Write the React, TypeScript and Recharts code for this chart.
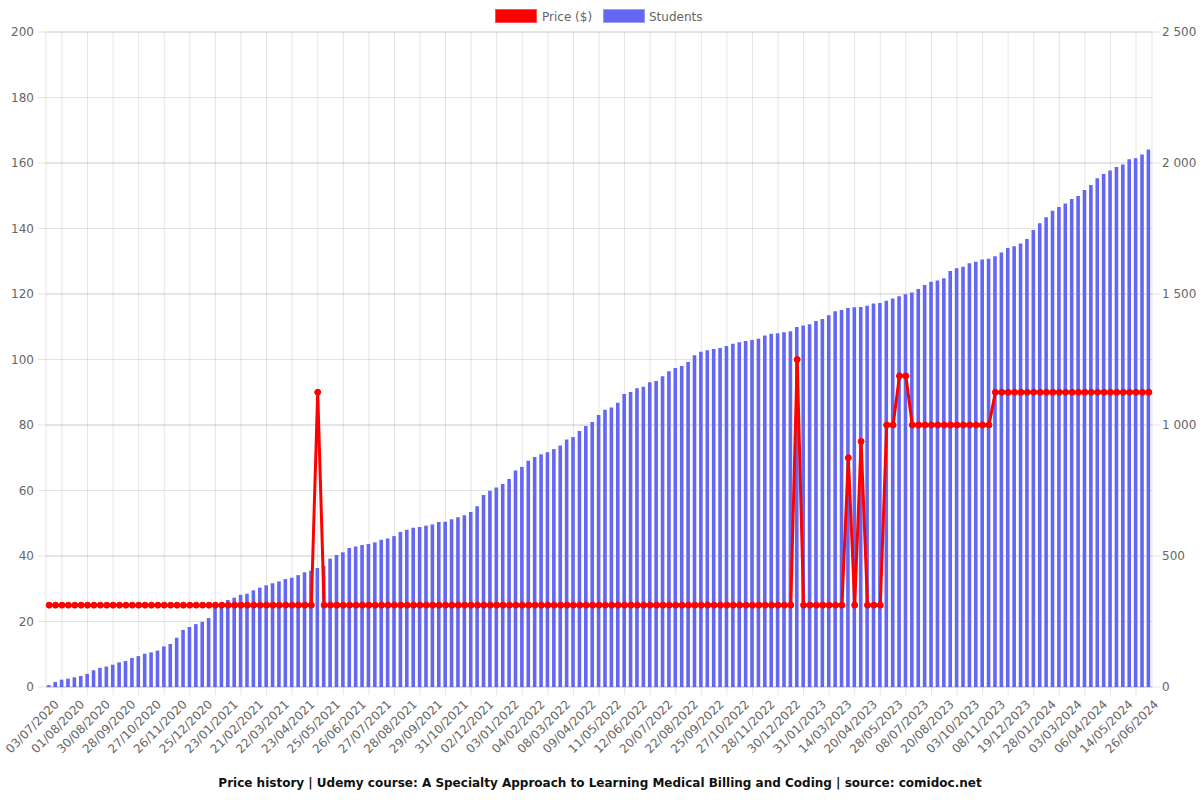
import React from "react";
import { ComposedChart, Bar, Line, XAxis, YAxis, CartesianGrid } from "recharts";

// every 4th category carries a date label
const tickLabels = [
  "03/07/2020", "01/08/2020", "30/08/2020", "28/09/2020", "27/10/2020", "26/11/2020",
  "25/12/2020", "23/01/2021", "21/02/2021", "22/03/2021", "23/04/2021", "25/05/2021",
  "26/06/2021", "27/07/2021", "28/08/2021", "29/09/2021", "31/10/2021", "02/12/2021",
  "03/01/2022", "04/02/2022", "08/03/2022", "09/04/2022", "11/05/2022", "12/06/2022",
  "20/07/2022", "22/08/2022", "25/09/2022", "27/10/2022", "28/11/2022", "30/12/2022",
  "31/01/2023", "14/03/2023", "20/04/2023", "28/05/2023", "08/07/2023", "20/08/2023",
  "03/10/2023", "08/11/2023", "19/12/2023", "28/01/2024", "03/03/2024", "06/04/2024",
  "14/05/2024", "26/06/2024",
];

const students = [
  7, 19, 28, 32, 37, 42, 50, 64, 73, 78,
  85, 94, 99, 111, 118, 127, 132, 139, 155, 164,
  188, 218, 229, 240, 249, 263, 303, 310, 332, 341,
  352, 356, 369, 379, 388, 396, 403, 412, 417, 427,
  438, 444, 454, 462, 490, 504, 514, 531, 536, 542,
  546, 552, 562, 567, 576, 592, 600, 608, 611, 616,
  620, 630, 631, 640, 648, 656, 668, 690, 733, 749,
  761, 775, 794, 826, 840, 864, 878, 888, 896, 908,
  922, 945, 954, 977, 996, 1011, 1038, 1058, 1067, 1085,
  1118, 1126, 1140, 1146, 1163, 1168, 1186, 1205, 1218, 1225,
  1240, 1266, 1280, 1285, 1290, 1294, 1302, 1310, 1316, 1321,
  1324, 1329, 1342, 1348, 1350, 1354, 1358, 1374, 1380, 1385,
  1397, 1405, 1419, 1434, 1439, 1447, 1449, 1450, 1455, 1464,
  1466, 1474, 1483, 1491, 1499, 1506, 1519, 1534, 1547, 1552,
  1560, 1588, 1598, 1604, 1617, 1623, 1632, 1635, 1644, 1658,
  1676, 1682, 1693, 1710, 1744, 1770, 1793, 1818, 1832, 1845,
  1863, 1874, 1897, 1916, 1942, 1958, 1971, 1985, 1994, 2014,
  2018, 2032, 2052,
];

const prices = [
  25, 25, 25, 25, 25, 25, 25, 25, 25, 25,
  25, 25, 25, 25, 25, 25, 25, 25, 25, 25,
  25, 25, 25, 25, 25, 25, 25, 25, 25, 25,
  25, 25, 25, 25, 25, 25, 25, 25, 25, 25,
  25, 25, 90, 25, 25, 25, 25, 25, 25, 25,
  25, 25, 25, 25, 25, 25, 25, 25, 25, 25,
  25, 25, 25, 25, 25, 25, 25, 25, 25, 25,
  25, 25, 25, 25, 25, 25, 25, 25, 25, 25,
  25, 25, 25, 25, 25, 25, 25, 25, 25, 25,
  25, 25, 25, 25, 25, 25, 25, 25, 25, 25,
  25, 25, 25, 25, 25, 25, 25, 25, 25, 25,
  25, 25, 25, 25, 25, 25, 25, 100, 25, 25,
  25, 25, 25, 25, 25, 70, 25, 75, 25, 25,
  25, 80, 80, 95, 95, 80, 80, 80, 80, 80,
  80, 80, 80, 80, 80, 80, 80, 80, 90, 90,
  90, 90, 90, 90, 90, 90, 90, 90, 90, 90,
  90, 90, 90, 90, 90, 90, 90, 90, 90, 90,
  90, 90, 90,
];

const priceTicks = [0, 20, 40, 60, 80, 100, 120, 140, 160, 180, 200];
const studentTicks = [0, 500, 1000, 1500, 2000, 2500];

const data = students.map((s, i) => ({ i, students: s, price: prices[i] }));

const FONT = "'DejaVu Sans', sans-serif";
const GRID = "rgba(0,0,0,0.1)";
const BLUE = "#6467f2";
const RED = "#ff0000";
const N = students.length;

const PLOT_LEFT = 46;
const PLOT_W = 1106;
const BAND = PLOT_W / N;

// grid lines sit midway between labelled categories
const gridXs: number[] = [];
for (let k = 2; k < N; k += 4) gridXs.push(PLOT_LEFT + (k + 0.5) * BAND);

function spaced(v: number) {
  if (v < 1000) return String(v);
  return `${Math.floor(v / 1000)} ${String(v % 1000).padStart(3, "0")}`;
}

function DateTick(props: any) {
  const { x, y, payload } = props;
  const idx = payload.value as number;
  const label = idx % 4 === 0 ? tickLabels[idx / 4] : "";
  return (
    <g>
      {idx + 2 < N && (
        <line x1={x + 2 * BAND} x2={x + 2 * BAND} y1={y} y2={y + 8} stroke={GRID} />
      )}
      <text
        transform={`translate(${x + 7.5},${y + 15}) rotate(-45)`}
        textAnchor="end"
        dy="0.35em"
        fontSize={12}
        fill="#666"
        fontFamily={FONT}
      >
        {label}
      </text>
    </g>
  );
}

export default function App() {
  return (
    <div style={{ position: "absolute", left: 0, top: 0, width: 1200, height: 800, background: "#fff", fontFamily: FONT }}>
      {/* legend */}
      <div style={{ position: "absolute", top: 9, left: 495, width: 40, height: 12, background: RED, border: "1px solid #ff4d4d" }} />
      <div style={{ position: "absolute", top: 9, left: 542, fontSize: 12, color: "#666", lineHeight: "16px" }}>Price ($)</div>
      <div style={{ position: "absolute", top: 9, left: 603, width: 40, height: 12, background: BLUE, border: "1px solid #9a9cf6" }} />
      <div style={{ position: "absolute", top: 9, left: 649, fontSize: 12, color: "#666", lineHeight: "16px" }}>Students</div>

      <ComposedChart
        width={1200}
        height={800}
        data={data}
        margin={{ top: 32, right: 0, bottom: 0, left: 0 }}
        style={{ position: "absolute", left: 0, top: 0 }}
      >
        <CartesianGrid yAxisId="left" vertical={false} stroke={GRID} />
        <CartesianGrid yAxisId="right" vertical={false} stroke={GRID} />
        <CartesianGrid yAxisId="left" horizontal={false} stroke={GRID} verticalPoints={gridXs} />
        <XAxis
          dataKey="i"
          type="category"
          interval={3}
          height={113}
          tickLine={false}
          tickSize={0}
          tickMargin={0}
          axisLine={{ stroke: GRID }}
          tick={<DateTick />}
        />
        <YAxis
          yAxisId="left"
          width={46}
          domain={[0, 200]}
          ticks={priceTicks}
          interval={0}
          tickSize={8}
          tickMargin={4}
          tickLine={{ stroke: GRID }}
          axisLine={{ stroke: GRID }}
          tick={{ fill: "#666", fontSize: 12, fontFamily: FONT }}
        />
        <YAxis
          yAxisId="right"
          orientation="right"
          width={48}
          domain={[0, 2500]}
          ticks={studentTicks}
          interval={0}
          tickSize={8}
          tickMargin={2}
          tickLine={{ stroke: GRID }}
          axisLine={{ stroke: GRID }}
          tickFormatter={spaced}
          tick={{ fill: "#666", fontSize: 12, fontFamily: FONT }}
        />
        <Bar yAxisId="right" dataKey="students" fill={BLUE} barSize={3.6} isAnimationActive={false} />
        <Line
          yAxisId="left"
          type="linear"
          dataKey="price"
          stroke={RED}
          strokeWidth={3}
          dot={{ r: 3, fill: RED, stroke: RED, strokeWidth: 1 }}
          activeDot={false}
          isAnimationActive={false}
        />
      </ComposedChart>

      <div
        style={{
          position: "absolute",
          top: 775,
          left: 0,
          width: 1200,
          textAlign: "center",
          fontSize: 12,
          fontWeight: "bold",
          color: "#111",
          lineHeight: "16px",
        }}
      >
        Price history | Udemy course: A Specialty Approach to Learning Medical Billing and Coding | source: comidoc.net
      </div>
    </div>
  );
}
